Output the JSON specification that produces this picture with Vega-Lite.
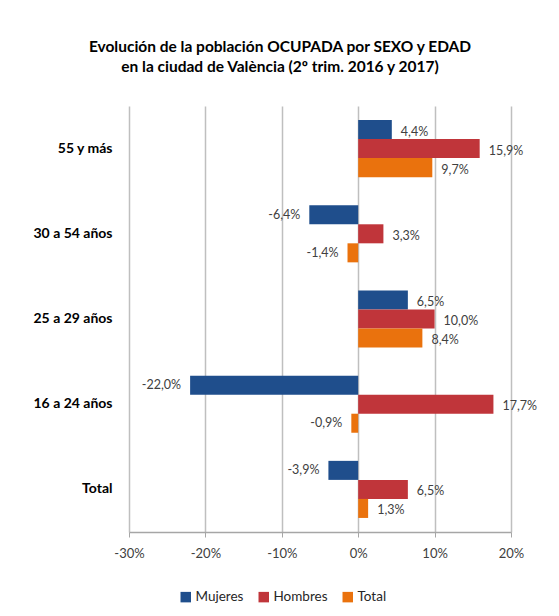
{
  "$schema": "https://vega.github.io/schema/vega-lite/v6.json",
  "width": 382,
  "height": 426,
  "autosize": "none",
  "padding": {"left": 129, "top": 106, "right": 48, "bottom": 84},
  "background": "white",
  "config": {
    "font": "Lato",
    "view": {"stroke": null},
    "locale": {"number": {"decimal": ",", "thousands": ".", "grouping": [3], "currency": ["", " €"], "minus": "-"}}
  },
  "title": {
    "text": ["Evolución de la población OCUPADA por SEXO y EDAD", "en la ciudad de València (2º trim. 2016 y 2017)"],
    "font": "Lato",
    "fontSize": 15.5,
    "fontWeight": "bold",
    "color": "#000000",
    "anchor": "middle",
    "dx": -40,
    "offset": 31,
    "lineHeight": 20
  },
  "data": {
    "values": [
      {"grupo": "55 y más", "sexo": "Mujeres", "valor": 0.044},
      {"grupo": "55 y más", "sexo": "Hombres", "valor": 0.159},
      {"grupo": "55 y más", "sexo": "Total", "valor": 0.097},
      {"grupo": "30 a 54 años", "sexo": "Mujeres", "valor": -0.064},
      {"grupo": "30 a 54 años", "sexo": "Hombres", "valor": 0.033},
      {"grupo": "30 a 54 años", "sexo": "Total", "valor": -0.014},
      {"grupo": "25 a 29 años", "sexo": "Mujeres", "valor": 0.065},
      {"grupo": "25 a 29 años", "sexo": "Hombres", "valor": 0.100},
      {"grupo": "25 a 29 años", "sexo": "Total", "valor": 0.084},
      {"grupo": "16 a 24 años", "sexo": "Mujeres", "valor": -0.220},
      {"grupo": "16 a 24 años", "sexo": "Hombres", "valor": 0.177},
      {"grupo": "16 a 24 años", "sexo": "Total", "valor": -0.009},
      {"grupo": "Total", "sexo": "Mujeres", "valor": -0.039},
      {"grupo": "Total", "sexo": "Hombres", "valor": 0.065},
      {"grupo": "Total", "sexo": "Total", "valor": 0.013}
    ]
  },
  "encoding": {
    "y": {
      "field": "grupo",
      "type": "nominal",
      "sort": ["55 y más", "30 a 54 años", "25 a 29 años", "16 a 24 años", "Total"],
      "scale": {"paddingInner": 0.33, "paddingOuter": 0.165},
      "axis": {
        "title": null,
        "ticks": false,
        "domain": false,
        "labelFont": "Lato",
        "labelFontSize": 14,
        "labelFontWeight": "bold",
        "labelColor": "#000000",
        "labelPadding": 17
      }
    },
    "yOffset": {
      "field": "sexo",
      "type": "nominal",
      "sort": ["Mujeres", "Hombres", "Total"]
    },
    "x": {
      "field": "valor",
      "type": "quantitative",
      "scale": {"domain": [-0.3, 0.2], "nice": false},
      "axis": {
        "title": null,
        "format": ".0%",
        "values": [-0.3, -0.2, -0.1, 0, 0.1, 0.2],
        "grid": true,
        "gridColor": "#bfbfbf",
        "gridWidth": 1.5,
        "domainColor": "#a6a6a6",
        "domainWidth": 1.5,
        "tickColor": "#a6a6a6",
        "tickSize": 5,
        "labelFlush": false,
        "labelFont": "Lato",
        "labelFontSize": 13,
        "labelColor": "#404040",
        "labelPadding": 10
      }
    }
  },
  "layer": [
    {
      "mark": {"type": "bar"},
      "encoding": {
        "color": {
          "field": "sexo",
          "type": "nominal",
          "sort": ["Mujeres", "Hombres", "Total"],
          "scale": {"domain": ["Mujeres", "Hombres", "Total"], "range": ["#1f4e8c", "#c0353a", "#ea720d"]},
          "legend": {
            "title": null,
            "orient": "none",
            "direction": "horizontal",
            "legendX": 50,
            "legendY": 484,
            "symbolType": "square",
            "symbolSize": 110,
            "symbolStrokeWidth": 0,
            "labelFont": "Lato",
            "labelFontSize": 13.5,
            "labelColor": "#262626",
            "labelOffset": 3,
            "columnPadding": 13
          }
        }
      }
    },
    {
      "transform": [{"filter": "datum.valor >= 0"}],
      "mark": {"type": "text", "align": "left", "dx": 9, "dy": 2, "fontSize": 12.5, "color": "#404040", "font": "Lato"},
      "encoding": {"text": {"field": "valor", "type": "quantitative", "format": ".1%"}}
    },
    {
      "transform": [{"filter": "datum.valor < 0"}],
      "mark": {"type": "text", "align": "right", "dx": -9, "dy": 0, "fontSize": 12.5, "color": "#404040", "font": "Lato"},
      "encoding": {"text": {"field": "valor", "type": "quantitative", "format": ".1%"}}
    }
  ]
}
